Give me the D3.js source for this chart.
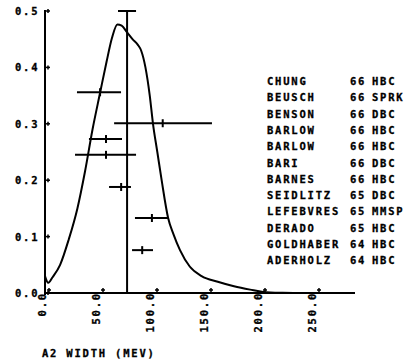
<!DOCTYPE html>
<html>
<head>
<meta charset="utf-8">
<script src="https://cdn.jsdelivr.net/npm/d3@7"></script>
<style>
  body { margin: 0; background: #fff; }
  text { font-family: "DejaVu Sans Mono", monospace; font-weight: bold; font-size: 10.5px; letter-spacing: 1.8px; fill: #000; stroke: #000; stroke-width: 0.3px; }
</style>
</head>
<body>
<div id="chart"></div>
<script>
// curve: A2 width (MeV) vs probability
var curveWidth = [0, 3, 7, 14, 22, 30, 37, 44, 51, 57, 62, 67, 71, 76, 81, 86, 89, 93, 97, 100, 104, 108, 114, 119, 125, 134, 145, 160, 175, 190, 202, 220, 240, 260, 285];
var curveValue = [0.030, 0.018, 0.028, 0.050, 0.095, 0.150, 0.215, 0.290, 0.355, 0.410, 0.452, 0.476, 0.474, 0.462, 0.450, 0.440, 0.430, 0.400, 0.350, 0.300, 0.250, 0.200, 0.133, 0.104, 0.076, 0.047, 0.030, 0.020, 0.012, 0.006, 0.002, 0.0005, 0, 0, 0];

// measurements with horizontal errors
var pointY = [0.356, 0.301, 0.273, 0.245, 0.188, 0.133, 0.076];
var pointW = [51, 109, 56.5, 56.5, 70.5, 99, 90];
var pointLo = [29.6, 64, 40.7, 27.8, 59.3, 83.3, 80.6];
var pointHi = [70.4, 154.6, 71.3, 84.3, 79.6, 113.9, 100];

// average width line
var avgWidth = 76;
var avgLo = 67.6, avgHi = 84.3, avgTop = 0.5;

var xTicks = [0, 50, 100, 150, 200, 250];
var yTicks = [0, 0.1, 0.2, 0.3, 0.4, 0.5];

var expNames = ["CHUNG", "BEUSCH", "BENSON", "BARLOW", "BARLOW", "BARI", "BARNES", "SEIDLITZ", "LEFEBVRES", "DERADO", "GOLDHABER", "ADERHOLZ"];
var expYears = ["66", "66", "66", "66", "66", "66", "66", "65", "65", "65", "64", "64"];
var expTypes = ["HBC", "SPRK", "DBC", "HBC", "HBC", "DBC", "HBC", "DBC", "MMSP", "HBC", "HBC", "HBC"];

var width = 414, height = 360;

var x = d3.scaleLinear().domain([0, 250]).range([45, 315]);
var y = d3.scaleLinear().domain([0, 0.5]).range([293, 11]);

var svg = d3.select('#chart')
    .append('svg')
    .attr('width', width)
    .attr('height', height);

// axes lines
svg.append('line')
    .attr('x1', x(0)).attr('x2', x(0))
    .attr('y1', y(0.5) - 1).attr('y2', y(0) + 2)
    .attr('stroke', '#000').attr('stroke-width', 2);
svg.append('line')
    .attr('x1', x(0)).attr('x2', 355)
    .attr('y1', y(0)).attr('y2', y(0))
    .attr('stroke', '#000').attr('stroke-width', 2);

// y ticks (small plus marks)
var yt = svg.append('g').selectAll('g').data(yTicks).join('g');
yt.append('line')
    .attr('x1', x(0)).attr('x2', x(0) + 5)
    .attr('y1', d => y(d)).attr('y2', d => y(d))
    .attr('stroke', '#000').attr('stroke-width', 1.5);
yt.append('line')
    .attr('x1', x(0) + 3).attr('x2', x(0) + 3)
    .attr('y1', d => y(d) - 2).attr('y2', d => y(d) + 2)
    .attr('stroke', '#000').attr('stroke-width', 1.5);
yt.append('text')
    .attr('x', 15)
    .attr('y', d => y(d) + 4)
    .text(d => d.toFixed(1));

// x ticks
var xt = svg.append('g').selectAll('g').data(xTicks).join('g');
xt.append('line')
    .attr('x1', d => x(d) + 4).attr('x2', d => x(d) + 4)
    .attr('y1', y(0) - 5).attr('y2', y(0))
    .attr('stroke', '#000').attr('stroke-width', 1.5);
xt.append('line')
    .attr('x1', d => x(d) + 2).attr('x2', d => x(d) + 6)
    .attr('y1', y(0) - 3).attr('y2', y(0) - 3)
    .attr('stroke', '#000').attr('stroke-width', 1.5);
xt.append('text')
    .attr('transform', d => 'translate(' + (x(d) + 1) + ',' + (y(0) - 1) + ') rotate(-90)')
    .attr('text-anchor', 'end')
    .text(d => d.toFixed(1));

// axis title
svg.append('text')
    .attr('x', 42).attr('y', 357)
    .text('A2 WIDTH (MEV)');

// average line with top cap
svg.append('line')
    .attr('x1', x(avgWidth)).attr('x2', x(avgWidth))
    .attr('y1', y(avgTop)).attr('y2', y(0))
    .attr('stroke', '#000').attr('stroke-width', 2);
svg.append('line')
    .attr('x1', x(avgLo)).attr('x2', x(avgHi))
    .attr('y1', y(avgTop)).attr('y2', y(avgTop))
    .attr('stroke', '#000').attr('stroke-width', 2);

// curve
var curve = curveWidth.map((w, i) => [w, curveValue[i]]);
svg.append('path')
    .datum(curve)
    .attr('fill', 'none')
    .attr('stroke', '#000')
    .attr('stroke-width', 2)
    .attr('d', d3.line().x(d => x(d[0])).y(d => y(d[1])).curve(d3.curveMonotoneX));

// error bars
var pts = pointY.map((v, i) => ({ v: v, w: pointW[i], lo: pointLo[i], hi: pointHi[i] }));
var pg = svg.append('g').selectAll('g').data(pts).join('g');
pg.append('line')
    .attr('x1', d => x(d.lo)).attr('x2', d => x(d.hi))
    .attr('y1', d => y(d.v)).attr('y2', d => y(d.v))
    .attr('stroke', '#000').attr('stroke-width', 2);
pg.append('line')
    .attr('x1', d => x(d.w)).attr('x2', d => x(d.w))
    .attr('y1', d => y(d.v) - 4).attr('y2', d => y(d.v) + 4)
    .attr('stroke', '#000').attr('stroke-width', 2);

// legend
var lg = svg.append('g').selectAll('g').data(expNames).join('g')
    .attr('transform', (d, i) => 'translate(0,' + (85 + i * 16.3) + ')');
lg.append('text').attr('x', 267).text(d => d);
lg.append('text').attr('x', 350).text((d, i) => expYears[i]);
lg.append('text').attr('x', 372).text((d, i) => expTypes[i]);
</script>
</body>
</html>
